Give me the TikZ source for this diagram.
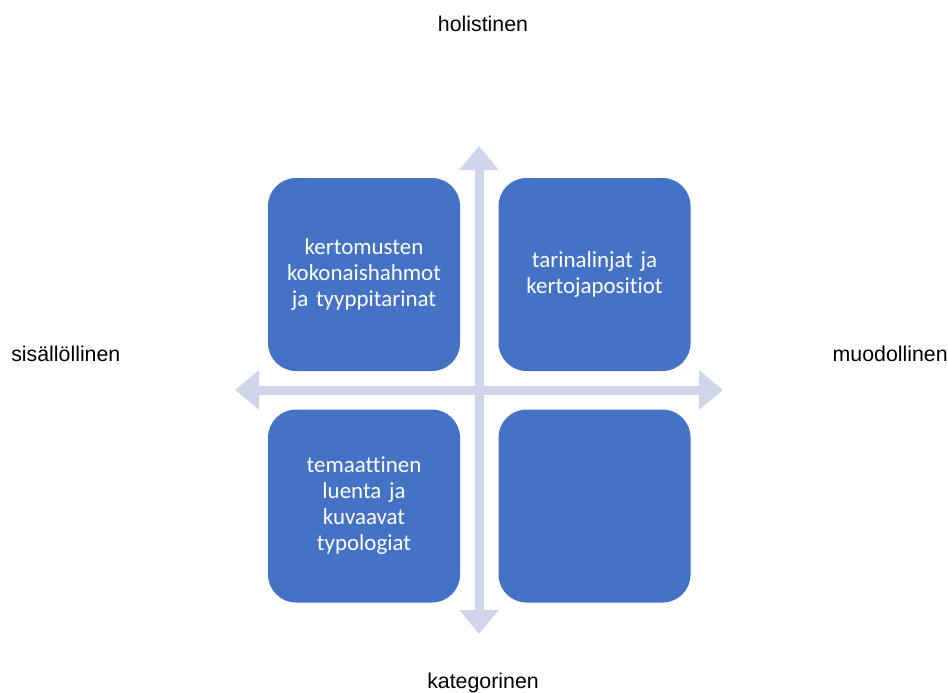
\documentclass[tikz,border=0pt]{standalone}
\usepackage{fontspec}
\setmainfont{Liberation Sans}
\newfontfamily\boxfont[Ligatures={NoCommon,NoContextual}]{Carlito}
\usetikzlibrary{arrows.meta,positioning}

\definecolor{quadblue}{HTML}{4472C4}
\definecolor{axisblue}{HTML}{CFD5EA}

\begin{document}
\begin{tikzpicture}[x=0.75pt, y=-0.75pt, node distance=28.5pt and 28.5pt,
  every node/.style={font=\fontsize{16}{19}\selectfont},
  quad/.style={fill=quadblue, rounded corners=21pt, minimum width=144pt, minimum height=144.75pt,
    inner sep=0pt, text width=130pt, align=center, text=white,
    font=\boxfont\fontsize{17.2}{19.5}\selectfont},
  axis/.style={draw=axisblue, line width=6.75pt,
    {Triangle[width=28.5pt,length=18pt]}-{Triangle[width=28.5pt,length=18pt]}}]

  \useasboundingbox (0,0) rectangle (948,692);

  % Axes
  \coordinate (top) at (479,146);
  \coordinate (bottom) at (479,634);
  \coordinate (left) at (235,390);
  \coordinate (right) at (723,390);
  \draw[axis] (top) -- (bottom);
  \draw[axis] (left) -- (right);

  % Quadrants
  \node (q1) [quad] at (364,274.5) {kertomusten\\ kokonaishahmot\\ ja tyyppitarinat};
  \node (q2) [quad, right=of q1] {tarinalinjat ja\\ kertojapositiot};
  \node (q3) [quad, below=of q1] {temaattinen\\ luenta ja\\ kuvaavat\\ typologiat};
  \node (q4) [quad, right=of q3] {};

  % Axis labels
  \node (hol) [anchor=base, inner sep=0pt] at (483,32) {holistinen};
  \node (kat) [anchor=base, inner sep=0pt] at (483,688) {kategorinen};
  \node (sis) [anchor=base west, inner sep=0pt] at (11,361) {sisällöllinen};
  \node (muo) [anchor=base east, inner sep=0pt] at (948,361) {muodollinen};

\end{tikzpicture}
\end{document}
